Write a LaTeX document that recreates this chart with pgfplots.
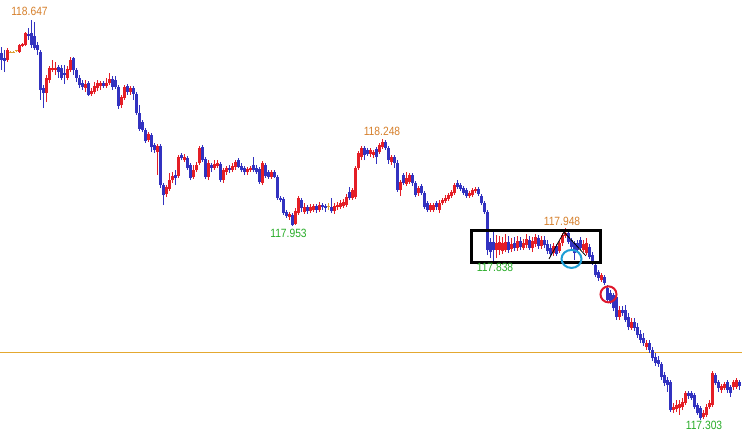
\documentclass[border=0pt]{standalone}
\usepackage{pgfplots}
\usepackage{pgfplotstable}
\pgfplotsset{compat=1.18}
\usepackage{graphicx}
\usepackage{fontspec}
\setmainfont{Liberation Sans}

\definecolor{upc}{RGB}{228,30,38}
\definecolor{dnc}{RGB}{50,50,192}
\definecolor{dojic}{RGB}{222,160,50}
\definecolor{hic}{RGB}{214,128,44}
\definecolor{loc}{RGB}{40,172,40}
\definecolor{levc}{RGB}{228,168,48}
\definecolor{cyc}{RGB}{30,158,214}
\definecolor{rcc}{RGB}{222,24,44}

% bar index, open, high, low, close
\pgfplotstableread{
n o h l c
0 118.536 118.556 118.479 118.512
1 118.519 118.546 118.472 118.509
2 118.512 118.553 118.506 118.546
3 118.539 118.543 118.536 118.539
4 118.539 118.543 118.536 118.539
5 118.543 118.546 118.539 118.543
6 118.539 118.566 118.536 118.563
7 118.559 118.570 118.556 118.566
8 118.563 118.607 118.559 118.603
9 118.600 118.620 118.580 118.593
10 118.603 118.647 118.553 118.563
11 118.593 118.640 118.546 118.553
12 118.563 118.573 118.529 118.546
13 118.539 118.546 118.378 118.412
14 118.418 118.428 118.351 118.402
15 118.402 118.462 118.371 118.452
16 118.445 118.492 118.435 118.486
17 118.479 118.512 118.472 118.486
18 118.479 118.506 118.462 118.486
19 118.489 118.496 118.452 118.472
20 118.486 118.496 118.445 118.452
21 118.469 118.496 118.432 118.462
22 118.452 118.492 118.445 118.482
23 118.479 118.523 118.472 118.512
24 118.519 118.523 118.462 118.479
25 118.479 118.486 118.439 118.452
26 118.452 118.462 118.418 118.428
27 118.435 118.445 118.412 118.422
28 118.418 118.445 118.405 118.432
29 118.435 118.442 118.391 118.395
30 118.398 118.418 118.391 118.408
31 118.405 118.439 118.398 118.425
32 118.418 118.445 118.408 118.435
33 118.425 118.442 118.412 118.435
34 118.435 118.442 118.418 118.425
35 118.425 118.452 118.418 118.435
36 118.435 118.469 118.428 118.449
37 118.449 118.459 118.412 118.422
38 118.445 118.459 118.415 118.422
39 118.422 118.428 118.348 118.358
40 118.361 118.395 118.351 118.388
41 118.385 118.428 118.378 118.422
42 118.425 118.432 118.395 118.405
43 118.405 118.425 118.395 118.418
44 118.418 118.425 118.378 118.398
45 118.398 118.405 118.328 118.334
46 118.334 118.361 118.274 118.281
47 118.304 118.311 118.271 118.277
48 118.277 118.284 118.234 118.240
49 118.244 118.271 118.237 118.264
50 118.261 118.267 118.203 118.220
51 118.227 118.234 118.200 118.210
52 118.203 118.230 118.126 118.223
53 118.223 118.230 118.082 118.092
54 118.092 118.099 118.025 118.059
55 118.062 118.092 118.052 118.086
56 118.079 118.133 118.072 118.109
57 118.109 118.136 118.099 118.123
58 118.126 118.143 118.092 118.116
59 118.123 118.193 118.116 118.187
60 118.193 118.200 118.176 118.183
61 118.176 118.197 118.170 118.187
62 118.183 118.190 118.143 118.150
63 118.160 118.166 118.109 118.116
64 118.119 118.160 118.113 118.143
65 118.143 118.170 118.136 118.160
66 118.166 118.223 118.160 118.217
67 118.220 118.227 118.170 118.176
68 118.180 118.187 118.113 118.119
69 118.119 118.176 118.109 118.166
70 118.160 118.166 118.136 118.150
71 118.150 118.176 118.143 118.163
72 118.156 118.176 118.150 118.166
73 118.163 118.170 118.103 118.109
74 118.109 118.150 118.099 118.143
75 118.136 118.156 118.126 118.150
76 118.150 118.160 118.133 118.143
77 118.143 118.166 118.136 118.156
78 118.153 118.176 118.143 118.170
79 118.176 118.183 118.150 118.153
80 118.156 118.166 118.136 118.143
81 118.150 118.156 118.126 118.136
82 118.136 118.153 118.126 118.146
83 118.143 118.156 118.136 118.150
84 118.160 118.187 118.136 118.143
85 118.150 118.160 118.129 118.136
86 118.146 118.153 118.096 118.103
87 118.099 118.173 118.092 118.166
88 118.160 118.166 118.116 118.123
89 118.136 118.143 118.113 118.119
90 118.119 118.143 118.113 118.136
91 118.136 118.143 118.116 118.119
92 118.119 118.126 118.042 118.049
93 118.049 118.055 118.035 118.042
94 118.045 118.052 117.992 117.998
95 118.002 118.008 117.982 117.988
96 117.985 118.002 117.975 117.995
97 117.992 117.998 117.953 117.958
98 117.961 118.015 117.958 118.005
99 117.998 118.055 117.992 118.049
100 118.042 118.049 118.002 118.015
101 118.002 118.032 117.995 118.019
102 118.019 118.025 117.995 118.005
103 118.005 118.029 117.998 118.019
104 118.008 118.029 118.002 118.022
105 118.022 118.029 117.998 118.008
106 118.008 118.035 118.002 118.025
107 118.025 118.032 118.008 118.019
108 118.022 118.029 118.002 118.015
109 118.019 118.032 118.008 118.019
110 118.019 118.049 117.998 118.005
111 118.005 118.032 117.995 118.022
112 118.019 118.035 118.008 118.025
113 118.019 118.042 118.012 118.032
114 118.022 118.045 118.015 118.035
115 118.025 118.062 118.019 118.052
116 118.069 118.086 118.042 118.049
117 118.049 118.082 118.042 118.076
118 118.052 118.156 118.045 118.150
119 118.150 118.207 118.143 118.200
120 118.187 118.223 118.176 118.217
121 118.217 118.223 118.176 118.193
122 118.210 118.217 118.190 118.197
123 118.197 118.217 118.187 118.210
124 118.193 118.210 118.183 118.203
125 118.213 118.220 118.163 118.187
126 118.203 118.234 118.197 118.227
127 118.220 118.248 118.213 118.237
128 118.237 118.244 118.210 118.217
129 118.217 118.223 118.163 118.176
130 118.170 118.193 118.160 118.187
131 118.187 118.193 118.150 118.166
132 118.166 118.176 118.069 118.076
133 118.076 118.109 118.055 118.103
134 118.126 118.133 118.092 118.099
135 118.096 118.136 118.089 118.116
136 118.103 118.133 118.096 118.126
137 118.126 118.133 118.089 118.099
138 118.099 118.106 118.052 118.059
139 118.065 118.089 118.055 118.082
140 118.089 118.096 118.059 118.065
141 118.065 118.072 118.012 118.019
142 118.032 118.039 118.002 118.008
143 118.008 118.032 118.002 118.025
144 118.008 118.032 118.002 118.025
145 118.032 118.039 118.008 118.019
146 118.008 118.042 117.998 118.032
147 118.032 118.049 118.025 118.042
148 118.039 118.059 118.032 118.049
149 118.045 118.065 118.039 118.059
150 118.055 118.076 118.049 118.069
151 118.065 118.099 118.059 118.092
152 118.099 118.109 118.079 118.086
153 118.092 118.099 118.072 118.079
154 118.082 118.089 118.059 118.065
155 118.076 118.082 118.049 118.055
156 118.055 118.072 118.049 118.065
157 118.059 118.082 118.052 118.076
158 118.072 118.086 118.065 118.079
159 118.079 118.086 118.055 118.062
160 118.055 118.062 118.025 118.032
161 118.032 118.039 117.995 118.002
162 118.002 118.008 117.857 117.874
163 117.901 117.914 117.847 117.867
164 117.901 117.934 117.838 117.874
165 117.874 117.924 117.847 117.897
166 117.874 117.921 117.857 117.901
167 117.871 117.918 117.861 117.897
168 117.874 117.928 117.867 117.901
169 117.901 117.921 117.864 117.874
170 117.877 117.914 117.867 117.894
171 117.897 117.918 117.871 117.881
172 117.881 117.921 117.871 117.904
173 117.904 117.918 117.874 117.884
174 117.881 117.911 117.874 117.897
175 117.891 117.928 117.881 117.911
176 117.908 117.921 117.874 117.881
177 117.881 117.918 117.867 117.904
178 117.894 117.928 117.884 117.918
179 117.914 117.924 117.877 117.887
180 117.887 117.921 117.877 117.908
181 117.908 117.921 117.881 117.891
182 117.894 117.908 117.861 117.871
183 117.881 117.894 117.854 117.861
184 117.864 117.897 117.854 117.887
185 117.887 117.894 117.854 117.861
186 117.871 117.904 117.864 117.897
187 117.897 117.931 117.887 117.924
188 117.921 117.948 117.914 117.931
189 117.931 117.938 117.894 117.901
190 117.908 117.914 117.874 117.884
191 117.897 117.904 117.840 117.864
192 117.897 117.908 117.867 117.874
193 117.908 117.918 117.874 117.881
194 117.874 117.908 117.867 117.894
195 117.864 117.914 117.857 117.897
196 117.884 117.894 117.844 117.851
197 117.857 117.867 117.824 117.834
198 117.824 117.834 117.783 117.790
199 117.800 117.807 117.770 117.780
200 117.773 117.797 117.766 117.790
201 117.783 117.790 117.756 117.763
202 117.746 117.756 117.699 117.706
203 117.729 117.740 117.693 117.699
204 117.723 117.729 117.669 117.679
205 117.716 117.733 117.639 117.649
206 117.649 117.686 117.639 117.672
207 117.672 117.686 117.652 117.662
208 117.672 117.689 117.632 117.639
209 117.649 117.662 117.605 117.615
210 117.612 117.646 117.605 117.632
211 117.632 117.646 117.602 117.612
212 117.615 117.629 117.578 117.588
213 117.592 117.605 117.561 117.572
214 117.578 117.595 117.551 117.561
215 117.548 117.572 117.538 117.561
216 117.561 117.572 117.528 117.538
217 117.538 117.548 117.501 117.511
218 117.515 117.528 117.484 117.494
219 117.504 117.518 117.481 117.491
220 117.491 117.498 117.437 117.447
221 117.454 117.464 117.417 117.427
222 117.437 117.447 117.397 117.420
223 117.430 117.437 117.330 117.336
224 117.336 117.360 117.326 117.346
225 117.340 117.370 117.330 117.353
226 117.343 117.370 117.320 117.357
227 117.346 117.377 117.336 117.363
228 117.360 117.400 117.353 117.394
229 117.394 117.400 117.373 117.383
230 117.394 117.400 117.370 117.377
231 117.387 117.394 117.340 117.346
232 117.353 117.360 117.320 117.326
233 117.343 117.350 117.303 117.309
234 117.313 117.336 117.306 117.326
235 117.320 117.357 117.313 117.346
236 117.346 117.370 117.340 117.360
237 117.353 117.467 117.346 117.461
238 117.454 117.461 117.420 117.427
239 117.430 117.437 117.397 117.410
240 117.404 117.424 117.394 117.417
241 117.410 117.430 117.404 117.424
242 117.430 117.437 117.394 117.404
243 117.414 117.420 117.380 117.394
244 117.414 117.437 117.404 117.430
245 117.414 117.444 117.407 117.437
246 117.430 117.437 117.404 117.417
}\bars

% each bar is drawn as two vertical segments (quiver arrows without heads):
% a thin wick from low to high and a wide body from open to close
\pgfplotsset{
  seg/.style 2 args={color=#1, mark=none,
    quiver/every arrow/.append style={draw=#1, line width=#2, line cap=butt}},
}
\newcommand\lbl[1]{\scalebox{0.86}[1]{#1}}

\begin{document}
\begin{tikzpicture}
\begin{axis}[
  width=742bp, height=441bp, scale only axis,
  xmin=-0.5, xmax=246.833,
  ymin=117.2322, ymax=118.714,
  hide axis, clip=false,
  font=\fontsize{12}{14}\selectfont,
]
% level line
\draw[levc, line width=1bp] (axis cs:-0.5,117.528) -- (axis cs:246.833,117.528);

% rising bars
\addplot[seg={upc}{1bp}, quiver={u=0, v=\thisrow{h}-\thisrow{l}},
  restrict expr to domain={\thisrow{c}-\thisrow{o}}{0.0001:10}]
  table[x=n, y=l] {\bars};
\addplot[seg={upc}{2.8bp}, quiver={u=0, v=\thisrow{c}-\thisrow{o}},
  restrict expr to domain={\thisrow{c}-\thisrow{o}}{0.0001:10}]
  table[x=n, y=o] {\bars};
% falling bars
\addplot[seg={dnc}{1bp}, quiver={u=0, v=\thisrow{h}-\thisrow{l}},
  restrict expr to domain={\thisrow{c}-\thisrow{o}}{-10:-0.0001}]
  table[x=n, y=l] {\bars};
\addplot[seg={dnc}{2.8bp}, quiver={u=0, v=\thisrow{o}-\thisrow{c}},
  restrict expr to domain={\thisrow{c}-\thisrow{o}}{-10:-0.0001}]
  table[x=n, y=c] {\bars};
% unchanged bars
\addplot[seg={dojic}{1bp}, quiver={u=0, v=\thisrow{h}-\thisrow{l}},
  restrict expr to domain={\thisrow{c}-\thisrow{o}}{-0.00005:0.00005}]
  table[x=n, y=l] {\bars};
\addplot[seg={dojic}{2.8bp}, quiver={u=0, v=0.0016},
  restrict expr to domain={\thisrow{c}-\thisrow{o}}{-0.00005:0.00005}]
  table[x=n, y=o] {\bars};

% range box and marks
\draw[black, line width=3bp] (axis cs:156.5,117.941) rectangle (axis cs:199.5,117.832);
\draw[black, line width=0.8bp] (axis cs:182.5,117.844) -- (axis cs:187.5,117.934) -- (axis cs:194.83,117.854);
\draw[cyc, line width=2bp] (axis cs:190,117.844) ellipse [x radius=10bp, y radius=9bp];
\draw[rcc, line width=2bp] (axis cs:202.33,117.725) circle [radius=8bp];

% high and low labels
\node[hic] at (axis cs:9.33,118.675) {\lbl{118.647}};
\node[hic] at (axis cs:126.83,118.274) {\lbl{118.248}};
\node[loc] at (axis cs:95.67,117.931) {\lbl{117.953}};
\node[loc] at (axis cs:164.5,117.814) {\lbl{117.838}};
\node[hic] at (axis cs:186.83,117.971) {\lbl{117.948}};
\node[loc] at (axis cs:234.17,117.283) {\lbl{117.303}};
\end{axis}
\pgfresetboundingbox
\path (current axis.south west) rectangle (current axis.north east);
\end{tikzpicture}
\end{document}
